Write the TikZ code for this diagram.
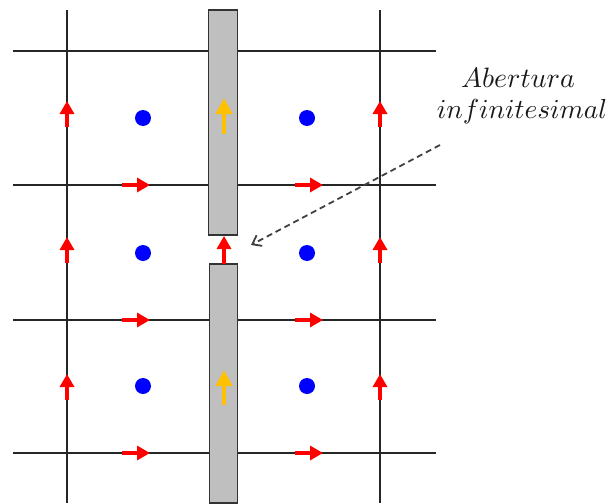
\documentclass[tikz,border=0pt]{standalone}
\usetikzlibrary{arrows.meta}
\begin{document}
\begin{tikzpicture}[x=1pt,y=-1pt,
  gridline/.style={draw=black!85,line width=1.3},
  bar/.style={draw=black!80,fill=black!25,line width=1.3},
  redarr/.style={draw=red,line width=4.5,-{Triangle[width=14,length=13]}},
  orgarr/.style={draw={rgb,255:red,255;green,192;blue,0},line width=4.5,-{Triangle[width=16,length=16]}},
  dot/.style={circle,fill=blue,inner sep=0,minimum size=16},
  lbl/.style={inner sep=0,text=black!90}
]
\useasboundingbox (0,0) rectangle (610,503);
% grid lines
\foreach \y in {51,185,320,453} \draw[gridline] (13,\y) -- (436,\y);
\foreach \x in {67,380} \draw[gridline] (\x,10) -- (\x,503);
% bars
\draw[bar] (208.5,10) rectangle (237.5,235);
\draw[bar] (209.5,264) rectangle (237.5,503);
% blue dots
\foreach \x in {143,307} \foreach \y in {118,253,386} \node[dot] at (\x,\y) {};
% red vertical arrows
\foreach \x in {67,380} {
  \draw[redarr] (\x,127) -- (\x,101);
  \draw[redarr] (\x,263) -- (\x,237);
  \draw[redarr] (\x,400) -- (\x,374);
}
\draw[redarr] (224,264) -- (224,236);
% red horizontal arrows
\foreach \y in {185,320,453} {
  \draw[redarr] (122,\y) -- (150,\y);
  \draw[redarr] (295,\y) -- (323,\y);
}
% orange arrows
\draw[orgarr] (224,134) -- (224,98);
\draw[orgarr] (224,405) -- (224,370);
% label
\node[lbl,anchor=base] (label1) at (518,87) {\scalebox{2.8}{$Abertura$}};
\node[lbl,anchor=base] (label2) at (522,118) {\scalebox{2.75}{$infinitesimal$}};
\coordinate (tail) at (440,145);
\coordinate (gap) at (251,245);
\draw[draw=black!75,line width=1.8,dash pattern=on 6pt off 4pt,-{Straight Barb[length=8,width=12]}] (tail) -- (gap);
\end{tikzpicture}
\end{document}
